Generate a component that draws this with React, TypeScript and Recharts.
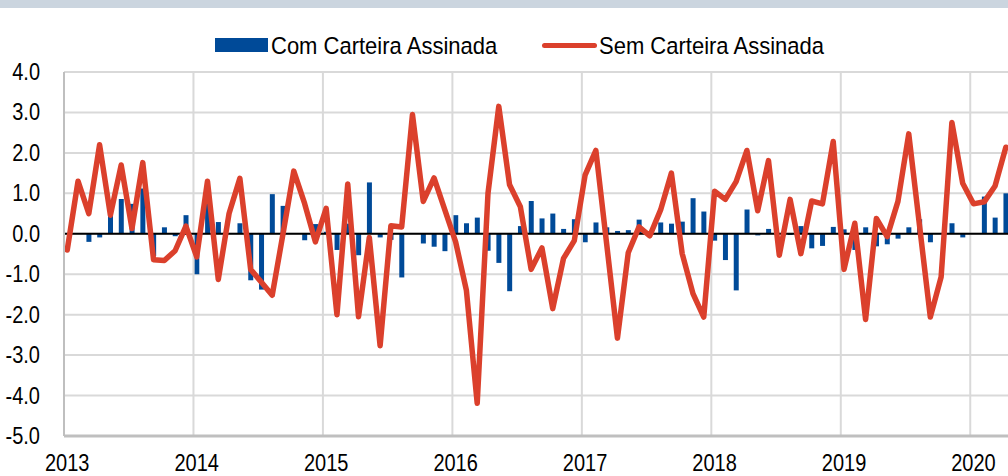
import React from "react";
import { ComposedChart, Bar, Line, XAxis, YAxis, CartesianGrid, ReferenceLine } from "recharts";

const years = ["2013", "2014", "2015", "2016", "2017", "2018", "2019", "2020"];
const yTicks = [-5, -4, -3, -2, -1, 0, 1, 2, 3, 4];
const seriesNames = ["Com Carteira Assinada", "Sem Carteira Assinada"];

const comCarteira = [
  0.0, 0.0, -0.2, -0.09, 0.45, 0.86, 0.74, 1.12, -0.55, 0.16, -0.06, 0.46,
  -1.0, 0.8, 0.29, 0.0, 0.26, -1.15, -1.38, 0.98, 0.69, 0.0, -0.16, 0.24,
  0.05, -0.4, 0.25, -0.53, 1.27, -0.09, -0.15, -1.08, 0.0, -0.24, -0.32, -0.43,
  0.46, 0.26, 0.4, -0.42, -0.72, -1.42, 0.19, 0.81, 0.38, 0.5, 0.12, 0.36,
  -0.21, 0.28, 0.16, 0.07, 0.09, 0.35, 0.03, 0.28, 0.25, 0.3, 0.88, 0.55,
  -0.17, -0.65, -1.4, 0.6, -0.04, 0.12, 0.0, -0.03, 0.19, -0.36, -0.3, 0.17,
  0.11, -0.4, 0.16, -0.31, -0.26, -0.12, 0.16, 0.36, -0.21, 0.02, 0.26, -0.09,
  0.02, 0.92, 0.4, 1.0,
];

const semCarteira = [
  -0.4, 1.3, 0.5, 2.2, 0.46, 1.7, 0.13, 1.76, -0.64, -0.66, -0.42, 0.19,
  -0.57, 1.3, -1.13, 0.5, 1.37, -0.88, -1.2, -1.52, 0.0, 1.55, 0.75, -0.2,
  0.63, -2.0, 1.23, -2.05, -0.09, -2.77, 0.2, 0.17, 2.95, 0.8, 1.38, 0.59,
  -0.2, -1.4, -4.19, 1.0, 3.15, 1.21, 0.67, -0.88, -0.35, -1.85, -0.61, -0.17,
  1.45, 2.06, -0.25, -2.58, -0.47, 0.17, -0.05, 0.59, 1.5, -0.49, -1.48, -2.06,
  1.05, 0.85, 1.29, 2.06, 0.57, 1.81, -0.53, 0.85, -0.49, 0.81, 0.74, 2.28,
  -0.88, 0.26, -2.12, 0.38, -0.07, 0.8, 2.47, 0.2, -2.06, -1.07, 2.75, 1.25,
  0.74, 0.79, 1.18, 2.14,
];

const data = comCarteira.map((v, i) => ({ idx: i, com: v, sem: semCarteira[i] }));

const FONT = "'Liberation Sans', Arial, sans-serif";
const BLUE = "#004A98";
const RED = "#DB402C";

const YTick = (props: any) => {
  const { x, y, payload } = props;
  return (
    <text
      transform={`translate(${x},${y}) scale(1,1.15)`}
      textAnchor="end"
      dominantBaseline="central"
      fontSize={20}
      fontFamily={FONT}
      fill="#000"
    >
      {Number(payload.value).toFixed(1)}
    </text>
  );
};

const XTick = (props: any) => {
  const { x, y, payload } = props;
  const label = years[Math.round(payload.value / 12)];
  return (
    <text
      transform={`translate(${x},${y}) scale(1,1.15)`}
      textAnchor="middle"
      dominantBaseline="central"
      fontSize={20}
      fontFamily={FONT}
      fill="#000"
    >
      {label}
    </text>
  );
};

export default function App() {
  return (
    <div style={{ position: "absolute", left: 0, top: 0, width: 1008, height: 476, overflow: "hidden", background: "#fff" }}>
      <div style={{ position: "absolute", left: 0, top: 0, width: 1008, height: 8, background: "#CBD5DF" }} />
      <ComposedChart
        width={1008}
        height={476}
        data={data}
        margin={{ top: 72, right: 0, bottom: 0, left: 0 }}
      >
        <CartesianGrid vertical={false} stroke="#D9D9D9" strokeWidth={2} />
        {years.map((_, k) => (
          <ReferenceLine key={k} x={k * 12 - 0.3} stroke="#D9D9D9" strokeWidth={2} />
        ))}
        <XAxis
          type="number"
          dataKey="idx"
          domain={[-0.3, 87.2]}
          allowDataOverflow
          ticks={years.map((_, k) => k * 12)}
          tick={<XTick />}
          tickLine={false}
          tickSize={0}
          tickMargin={27}
          height={40}
          axisLine={{ stroke: "#BFBFBF", strokeWidth: 3 }}
          interval={0}
        />
        <YAxis
          type="number"
          domain={[-5, 4]}
          ticks={yTicks}
          tick={<YTick />}
          tickLine={false}
          tickSize={0}
          tickMargin={24}
          width={64}
          axisLine={{ stroke: "#BFBFBF", strokeWidth: 2 }}
          interval={0}
          allowDataOverflow
        />
        <Bar dataKey="com" name={seriesNames[0]} fill={BLUE} barSize={5} isAnimationActive={false} />
        <ReferenceLine y={0} stroke="#000" strokeWidth={2} />
        <Line
          dataKey="sem"
          name={seriesNames[1]}
          stroke={RED}
          strokeWidth={5.5}
          dot={false}
          strokeLinejoin="round"
          strokeLinecap="round"
          isAnimationActive={false}
        />
      </ComposedChart>
      <div style={{ position: "absolute", left: 215, top: 38, width: 53, height: 14, background: BLUE }} />
      <div
        style={{
          position: "absolute", left: 271, top: 33, fontFamily: FONT, fontSize: 22,
          lineHeight: "26px", transform: "scaleY(1.12)", transformOrigin: "left center", whiteSpace: "nowrap",
        }}
      >
        {seriesNames[0]}
      </div>
      <div style={{ position: "absolute", left: 542, top: 43, width: 55, height: 5, borderRadius: 3, background: RED }} />
      <div
        style={{
          position: "absolute", left: 599, top: 33, fontFamily: FONT, fontSize: 22,
          lineHeight: "26px", transform: "scaleY(1.12)", transformOrigin: "left center", whiteSpace: "nowrap",
        }}
      >
        {seriesNames[1]}
      </div>
    </div>
  );
}
